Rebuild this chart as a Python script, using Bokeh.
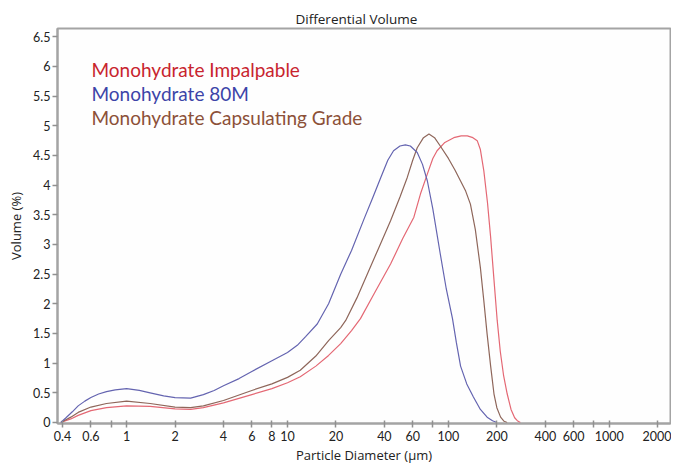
from bokeh.plotting import figure
from bokeh.models import FixedTicker, Label, Range1d
from bokeh.embed import file_html
from bokeh.resources import INLINE

# ---- data ----
blue_x = [0.39, 0.42, 0.46, 0.5, 0.55, 0.6, 0.67, 0.75, 0.85, 1.0, 1.2, 1.4, 1.7, 2.0, 2.5, 3.0, 3.5, 4.0, 5.0, 6.0, 8.0, 10, 11.5, 13, 15.3, 18, 21.4, 25, 30, 34, 38, 42, 45.6, 50, 54, 58, 64, 69, 74, 80, 89, 97, 106, 112, 119, 130, 143, 158, 174, 188, 200]
blue_y = [0.0, 0.08, 0.18, 0.28, 0.36, 0.42, 0.48, 0.52, 0.55, 0.57, 0.54, 0.5, 0.45, 0.42, 0.41, 0.47, 0.54, 0.62, 0.74, 0.86, 1.04, 1.18, 1.3, 1.45, 1.66, 2.0, 2.5, 2.9, 3.44, 3.8, 4.13, 4.42, 4.58, 4.66, 4.68, 4.66, 4.55, 4.35, 4.07, 3.6, 2.84, 2.25, 1.75, 1.35, 0.95, 0.65, 0.43, 0.22, 0.09, 0.03, 0.0]

brown_x = [0.39, 0.45, 0.5, 0.6, 0.75, 1.0, 1.4, 2.0, 2.5, 3.0, 4.0, 6.0, 8.0, 10, 12, 15, 18, 21.4, 23, 27, 31.3, 37, 43.7, 50, 55.5, 60, 64, 70, 75.7, 82, 89, 100, 110, 119, 128, 137, 147, 158, 166, 174, 183, 192, 200, 211, 222, 232]
brown_y = [0.0, 0.09, 0.17, 0.26, 0.32, 0.36, 0.32, 0.26, 0.25, 0.28, 0.37, 0.54, 0.65, 0.76, 0.88, 1.12, 1.38, 1.6, 1.72, 2.1, 2.5, 2.95, 3.4, 3.8, 4.13, 4.42, 4.63, 4.8, 4.86, 4.8, 4.66, 4.45, 4.25, 4.07, 3.9, 3.68, 3.25, 2.61, 2.05, 1.49, 0.95, 0.48, 0.25, 0.09, 0.02, 0.0]

red_x = [0.39, 0.45, 0.5, 0.6, 0.75, 1.0, 1.4, 2.0, 2.5, 3.0, 4.0, 6.0, 8.0, 10, 12, 15, 18, 21.4, 25, 28.4, 35, 43.7, 52, 61, 67, 74, 80, 85, 95, 108, 120, 131, 142, 151, 158, 166, 175, 183, 192, 201, 210, 220, 232, 245, 258, 268, 280]
red_y = [0.0, 0.06, 0.12, 0.2, 0.25, 0.28, 0.27, 0.23, 0.22, 0.25, 0.33, 0.47, 0.57, 0.67, 0.77, 0.95, 1.13, 1.33, 1.55, 1.75, 2.2, 2.67, 3.1, 3.46, 3.85, 4.19, 4.45, 4.58, 4.72, 4.8, 4.83, 4.83, 4.8, 4.75, 4.6, 4.24, 3.7, 3.12, 2.4, 1.72, 1.2, 0.8, 0.48, 0.22, 0.08, 0.03, 0.0]

series_names = ["Monohydrate Impalpable", "Monohydrate 80M", "Monohydrate Capsulating Grade"]

x_ticks = [0.4, 0.6, 0.8, 1, 2, 4, 6, 8, 10, 20, 40, 60, 80, 100, 200, 400, 600, 800, 1000, 2000]
x_tick_labels = ["0.4", "0.6", "", "1", "2", "4", "6", "8", "10", "20", "40", "60", "", "100", "200", "400", "600", "", "1000", "2000"]
y_ticks = [0, 0.5, 1, 1.5, 2, 2.5, 3, 3.5, 4, 4.5, 5, 5.5, 6, 6.5]
y_tick_labels = ["0", "0.5", "1", "1.5", "2", "2.5", "3", "3.5", "4", "4.5", "5", "5.5", "6", "6.5"]

title_text = "Differential Volume"
x_label = "Particle Diameter (\u00b5m)"
y_label = "Volume (%)"

# ---- figure ----
W, H = 671, 466
p = figure(width=W, height=H, x_axis_type="log", output_backend="svg",
           toolbar_location=None, tools="",
           x_range=Range1d(0.372, 2400), y_range=Range1d(-0.017, 6.64),
           min_border_left=57, min_border_right=1, min_border_top=28, min_border_bottom=41)
p.title.text = title_text
p.title.align = "left"
p.title.text_font = "Open Sans"
p.title.text_font_size = "13.5px"
p.title.text_font_style = "normal"
p.title.text_color = "#222222"
p.title.standoff = 2
p.title.offset = 238
p.background_fill_color = "#fefefe"
p.border_fill_color = "white"
p.grid.visible = False
p.outline_line_color = "#a4a4a4"
p.outline_line_width = 2

tick_font = "Lato"
p.xaxis.ticker = FixedTicker(ticks=x_ticks, minor_ticks=[])
p.xaxis.major_label_overrides = {t: l for t, l in zip(x_ticks, x_tick_labels)}
p.yaxis.ticker = FixedTicker(ticks=y_ticks, minor_ticks=[])
p.yaxis.major_label_overrides = {t: l for t, l in zip(y_ticks, y_tick_labels)}

for ax in (p.xaxis[0], p.yaxis[0]):
    ax.axis_line_color = "#a4a4a4"
    ax.axis_line_width = 2
    ax.major_tick_line_color = "#909090"
    ax.major_tick_line_width = 1.5
    ax.minor_tick_line_color = None
    ax.major_label_text_font = tick_font
    ax.major_label_text_font_size = "12.5px"
    ax.major_label_text_color = "#222222"
    ax.axis_label_text_font = "Open Sans"
    ax.axis_label_text_font_size = "13px"
    ax.axis_label_text_font_style = "normal"
    ax.axis_label_text_color = "#222222"

p.xaxis.major_tick_out = 4
p.xaxis.major_tick_in = 3
p.xaxis.major_label_standoff = 3
p.xaxis.axis_label = x_label
p.xaxis.axis_label_standoff = 2
p.yaxis.major_tick_out = 5
p.yaxis.major_tick_in = 0
p.yaxis.major_label_standoff = 2
p.yaxis.axis_label = y_label
p.yaxis.axis_label_standoff = 5

line_colors = ["#e46874", "#6464b0", "#8e665a"]
text_colors = ["#c8242e", "#3c44a8", "#8c5038"]

p.line(red_x, red_y, line_color=line_colors[0], line_width=1.2)
p.line(brown_x, brown_y, line_color=line_colors[2], line_width=1.2)
p.line(blue_x, blue_y, line_color=line_colors[1], line_width=1.2)

# label positions are in screen pixels relative to the plot frame (origin bottom-left)
for i, (name, col) in enumerate(zip(series_names, text_colors)):
    p.add_layout(Label(x=34, y=354 - 24 * i, x_units="screen", y_units="screen",
                       text=name, text_color=col, text_font="Lato", text_font_size="19px",
                       text_baseline="middle", text_align="left"))

open("out.html", "w").write(file_html(p, INLINE))
